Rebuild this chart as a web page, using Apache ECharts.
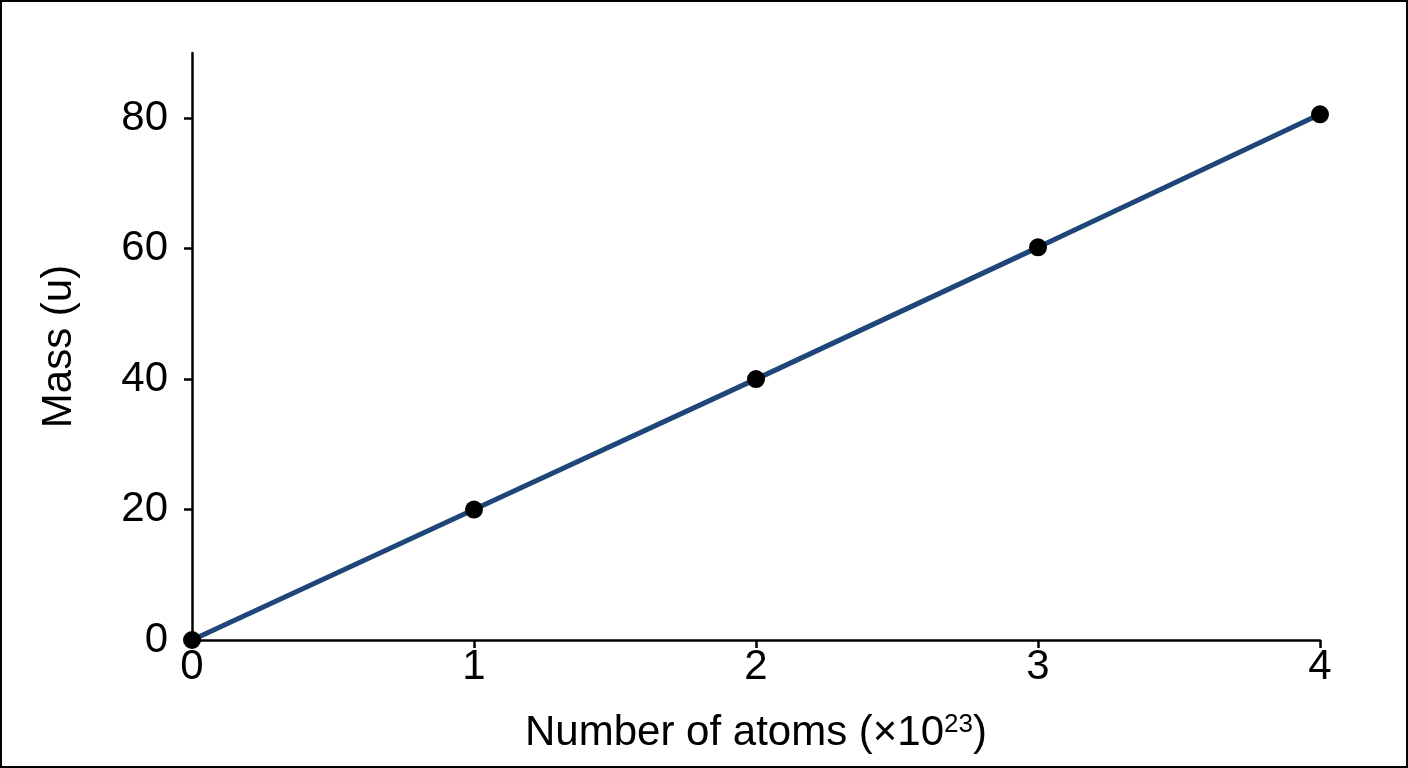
<!DOCTYPE html>
<html><head><meta charset="utf-8">
<script src="https://cdn.jsdelivr.net/npm/echarts@6/dist/echarts.min.js"></script>
<style>html,body{margin:0;padding:0;background:#fff}
#c{width:1404px;height:764px;border:2px solid #000}</style></head>
<body><div id="c"></div>
<script>
const atoms = [0, 1, 2, 3, 4];
const mass = [0, 20, 40, 60.2, 80.6];
const yTicks = [0, 20, 40, 60, 80];
const xTicks = [0, 1, 2, 3, 4];
const chart = echarts.init(document.getElementById('c'));
const font = 'Liberation Sans, Arial, sans-serif';
chart.setOption({
  animation: false,
  grid: {left: 190, right: 86, top: 51, bottom: 126},
  xAxis: {
    type: 'value', min: 0, max: 4, interval: 1,
    axisLine: {onZero: false, lineStyle: {color: '#000', width: 2.5}},
    axisTick: {show: true, length: 8, lineStyle: {color: '#000', width: 2.5}},
    axisLabel: {color: '#000', fontSize: 42, fontFamily: font, margin: 6},
    splitLine: {show: false},
    name: '{a|Number of atoms (×10}{s|23}{a|)}',
    nameLocation: 'middle', nameGap: 72,
    nameTextStyle: {rich: {a: {fontSize: 42, fontFamily: font, color: '#000'},
      s: {fontSize: 26, fontFamily: font, color: '#000', verticalAlign: 'top', padding: [0,0,16,0]}}}
  },
  yAxis: {
    type: 'value', min: 0, max: 90,
    axisLine: {show: true, onZero: false, lineStyle: {color: '#000', width: 2.5}},
    axisTick: {show: true, length: 8, customValues: yTicks, lineStyle: {color: '#000', width: 2.5}},
    axisLabel: {color: '#000', fontSize: 42, fontFamily: font, margin: 24, customValues: yTicks},
    splitLine: {show: false},
    name: 'Mass (u)', nameLocation: 'middle', nameGap: 112,
    nameTextStyle: {fontSize: 42, fontFamily: font, color: '#000'}
  },
  series: [{
    type: 'line', data: atoms.map((x, i) => [x, mass[i]]),
    lineStyle: {color: '#1f4678', width: 5},
    symbol: 'circle', symbolSize: 18,
    itemStyle: {color: '#000'}, z: 3
  }]
});
</script></body></html>
